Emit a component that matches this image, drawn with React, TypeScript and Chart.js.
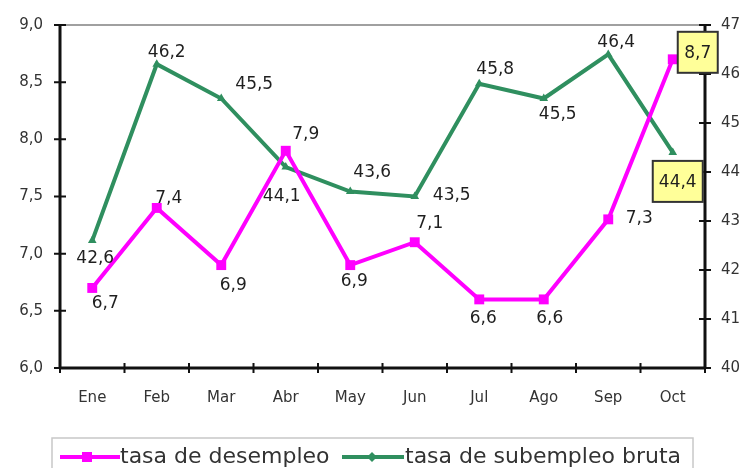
import React, { useEffect, useRef } from "react";
import { Chart, registerables } from "chart.js";

Chart.register(...registerables);

const categories = ["Ene", "Feb", "Mar", "Abr", "May", "Jun", "Jul", "Ago", "Sep", "Oct"];
const desempleo = [6.7, 7.4, 6.9, 7.9, 6.9, 7.1, 6.6, 6.6, 7.3, 8.7];
const subempleo = [42.6, 46.2, 45.5, 44.1, 43.6, 43.5, 45.8, 45.5, 46.4, 44.4];
const leftTicks = { min: 6, max: 9, step: 0.5 };
const rightTicks = { min: 40, max: 47, step: 1 };
const seriesNames = ["tasa de desempleo", "tasa de subempleo bruta"];

// label placement offsets (dx, dy from the point)
const desOffsets = [[13, 15], [12, -10], [12, 19], [20, -17], [4, 15], [15, -20], [4, 18], [6, 18], [31, -2], [25, -7]];
const subOffsets = [[3, 17], [10, -13], [33, -15], [-4, 28], [22, -20], [37, -2], [16, -15], [14, 15], [8, -13], [5, 29]];

const PINK = "#ff00ff";
const GREEN = "#2f8f5f";
const FONT = "'DejaVu Sans', sans-serif";

const fmt = (v: number) => v.toFixed(1).replace(".", ",");

const decoPlugin = {
  id: "deco",
  beforeDatasetsDraw(chart: any) {
    const { ctx, chartArea: a, scales } = chart;
    ctx.save();
    ctx.strokeStyle = "#a0a0a0";
    ctx.lineWidth = 2;
    ctx.beginPath();
    ctx.moveTo(a.left, a.top);
    ctx.lineTo(a.right, a.top);
    ctx.stroke();
    ctx.strokeStyle = "#111";
    ctx.lineWidth = 3;
    ctx.beginPath();
    ctx.moveTo(a.left, a.top);
    ctx.lineTo(a.left, a.bottom);
    ctx.moveTo(a.left - 1, a.bottom);
    ctx.lineTo(a.right + 1, a.bottom);
    ctx.moveTo(a.right, a.top);
    ctx.lineTo(a.right, a.bottom);
    ctx.stroke();
    ctx.lineWidth = 2;
    ctx.beginPath();
    scales.y.ticks.forEach((t: any) => {
      const y = scales.y.getPixelForValue(t.value);
      ctx.moveTo(a.left - 6, y);
      ctx.lineTo(a.left + 6, y);
    });
    scales.y1.ticks.forEach((t: any) => {
      const y = scales.y1.getPixelForValue(t.value);
      ctx.moveTo(a.right - 6, y);
      ctx.lineTo(a.right + 6, y);
    });
    const n = categories.length;
    const step = scales.x.getPixelForValue(1) - scales.x.getPixelForValue(0);
    for (let i = 0; i <= n; i++) {
      const x = scales.x.getPixelForValue(0) - step / 2 + i * step;
      ctx.moveTo(x, a.bottom - 5);
      ctx.lineTo(x, a.bottom + 5);
    }
    ctx.stroke();
    ctx.restore();
  },
  afterDatasetsDraw(chart: any) {
    const { ctx } = chart;
    ctx.save();
    ctx.font = `17px ${FONT}`;
    ctx.textAlign = "center";
    ctx.textBaseline = "middle";
    const drawSet = (di: number, vals: number[], offs: number[][]) => {
      const meta = chart.getDatasetMeta(di);
      meta.data.forEach((p: any, i: number) => {
        const x = p.x + offs[i][0];
        const y = p.y + offs[i][1];
        const txt = fmt(vals[i]);
        if (i === vals.length - 1) {
          const w = di === 0 ? 40 : 50;
          const h = 41;
          ctx.fillStyle = "#ffff99";
          ctx.fillRect(x - w / 2, y - h / 2, w, h);
          ctx.strokeStyle = "#333";
          ctx.lineWidth = 2;
          ctx.strokeRect(x - w / 2, y - h / 2, w, h);
        }
        ctx.fillStyle = "#1f1f1f";
        ctx.fillText(txt, x, y + 1);
      });
    };
    drawSet(0, desempleo, desOffsets);
    drawSet(1, subempleo, subOffsets);
    ctx.restore();
  },
  afterDraw(chart: any) {
    const { ctx } = chart;
    ctx.save();
    ctx.strokeStyle = "#c8c8c8";
    ctx.lineWidth = 1.5;
    ctx.strokeRect(52, 438, 641, 40);
    const yc = 457;
    ctx.strokeStyle = PINK;
    ctx.lineWidth = 4;
    ctx.beginPath();
    ctx.moveTo(60, yc);
    ctx.lineTo(120, yc);
    ctx.stroke();
    ctx.fillStyle = PINK;
    ctx.fillRect(82, yc - 5, 10, 10);
    ctx.strokeStyle = GREEN;
    ctx.beginPath();
    ctx.moveTo(342, yc);
    ctx.lineTo(404, yc);
    ctx.stroke();
    ctx.fillStyle = GREEN;
    ctx.beginPath();
    ctx.moveTo(372, yc - 5);
    ctx.lineTo(377, yc);
    ctx.lineTo(372, yc + 5);
    ctx.lineTo(367, yc);
    ctx.closePath();
    ctx.fill();
    ctx.fillStyle = "#333";
    ctx.font = `22px ${FONT}`;
    ctx.textAlign = "left";
    ctx.textBaseline = "middle";
    ctx.fillText(seriesNames[0], 120, yc);
    ctx.fillText(seriesNames[1], 405, yc);
    ctx.restore();
  },
};

export default function App() {
  const ref = useRef<HTMLCanvasElement>(null);
  useEffect(() => {
    if (!ref.current) return;
    const chart = new Chart(ref.current, {
      type: "line",
      data: {
        labels: categories,
        datasets: [
          {
            label: seriesNames[0],
            data: desempleo,
            yAxisID: "y",
            borderColor: PINK,
            backgroundColor: PINK,
            borderWidth: 4,
            pointStyle: "rect",
            pointRadius: 7,
            pointBorderWidth: 0,
            tension: 0,
          },
          {
            label: seriesNames[1],
            data: subempleo,
            yAxisID: "y1",
            borderColor: GREEN,
            backgroundColor: GREEN,
            borderWidth: 4,
            pointStyle: "triangle",
            pointRadius: 5,
            pointBorderWidth: 0,
            tension: 0,
          },
        ],
      },
      options: {
        responsive: false,
        animation: false,
        events: [],
        layout: { padding: { left: 0, right: 0, top: 25, bottom: 50 } },
        plugins: { legend: { display: false }, tooltip: { enabled: false } },
        scales: {
          x: {
            offset: true,
            grid: { display: false },
            border: { display: false },
            ticks: { font: { family: FONT, size: 15 }, color: "#333", padding: 13, maxRotation: 0 },
            afterFit: (s: any) => { s.height = 50; },
          },
          y: {
            position: "left",
            min: leftTicks.min,
            max: leftTicks.max,
            grid: { display: false },
            border: { display: false },
            ticks: {
              stepSize: leftTicks.step,
              font: { family: FONT, size: 15 },
              color: "#333",
              padding: 9,
              callback: (v: any) => fmt(Number(v)),
            },
            afterFit: (s: any) => { s.width = 60; },
          },
          y1: {
            position: "right",
            min: rightTicks.min,
            max: rightTicks.max,
            grid: { display: false },
            border: { display: false },
            ticks: {
              stepSize: rightTicks.step,
              font: { family: FONT, size: 15 },
              color: "#333",
              padding: 8,
              callback: (v: any) => String(v),
            },
            afterFit: (s: any) => { s.width = 42; },
          },
        },
      },
      plugins: [decoPlugin],
    });
    return () => chart.destroy();
  }, []);
  return (
    <div style={{ position: "fixed", left: 0, top: 0, width: 747, height: 468, background: "#fff" }}>
      <canvas ref={ref} width={747} height={468} style={{ display: "block" }} />
    </div>
  );
}
